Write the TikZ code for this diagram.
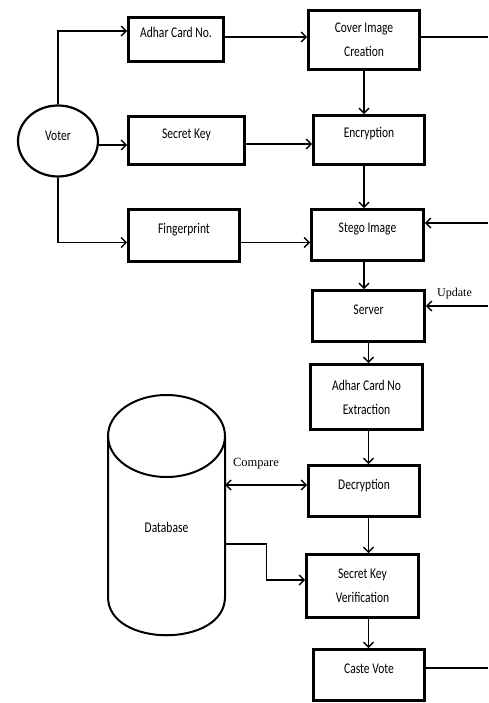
\documentclass[tikz,border=0pt]{standalone}
\usepackage{fontspec}
\setmainfont{Carlito}[FakeStretch=0.78]
\newfontfamily\serifl{Liberation Serif}
\usetikzlibrary{arrows.meta,shapes.geometric}
\begin{document}
\begin{tikzpicture}[x=1pt,y=-1pt,
  box/.style={draw, line width=2.6pt, rectangle, inner sep=0pt, align=center, font=\fontsize{14.8}{24}\selectfont},
  onel/.style={text height=10pt, text depth=14pt},
  conn/.style={line width=1.4pt, -{Straight Barb[length=5pt,width=10pt]}},
  plain/.style={line width=1.4pt},
  lbl/.style={font=\serifl\fontsize{12}{14}\selectfont, inner sep=0pt}]
\useasboundingbox (0,0) rectangle (488,703);
% boxes
\node[box,onel,minimum width=95pt,minimum height=44pt] (adhar) at (176,39.5) {Adhar Card No.};
\node[box,minimum width=111pt,minimum height=59pt] (cover) at (364,40) {Cover Image\\Creation};
\node[box,onel,minimum width=116pt,minimum height=48pt] (skey) at (186.5,140.5) {Secret Key};
\node[box,onel,minimum width=111pt,minimum height=49pt] (enc) at (369,140) {Encryption};
\node[box,onel,minimum width=111pt,minimum height=52pt] (fp) at (184,235.5) {Fingerprint};
\node[box,onel,minimum width=112pt,minimum height=51pt] (stego) at (367.5,235) {Stego Image};
\node[box,onel,minimum width=112pt,minimum height=51pt] (server) at (368.5,316) {Server};
\node[box,minimum width=112pt,minimum height=65pt] (extr) at (366.5,397) {Adhar Card No\\Extraction};
\node[box,onel,minimum width=111pt,minimum height=51pt] (dec) at (364,491) {Decryption};
\node[box,minimum width=112pt,minimum height=63pt] (verif) at (362.5,586) {Secret Key\\Verification};
\node[box,onel,minimum width=111pt,minimum height=51pt] (caste) at (369,675) {Caste Vote};
% voter
\node[draw, ellipse, line width=2.2pt, minimum width=80pt, minimum height=71pt, inner sep=0pt,
  font=\fontsize{14.8}{18}\selectfont, text height=10pt, text depth=10pt] (voter) at (58,141) {Voter};
% database
\node[minimum width=117pt, minimum height=240pt, inner sep=0pt, text height=37pt, text depth=3pt,
  font=\fontsize{14.8}{18}\selectfont] (db) at (166.5,515) {Database};
\draw[line width=2pt] (166.5,436) ellipse[x radius=58.5, y radius=41];
\draw[line width=2pt] (108,436) -- (108,597) .. controls (108,648) and (225,648) .. (225,597) -- (225,436);
% right edge points
\coordinate (r1) at (488,37);
\coordinate (r2) at (488,223);
\coordinate (r3) at (488,306);
\coordinate (r4) at (488,668);
% connectors
\draw[conn] (voter.north) |- ([yshift=8.5pt]adhar.west);
\draw[conn] ([yshift=-4pt]voter.east) -- ([yshift=-4pt]voter.east -| skey.west);
\draw[conn] (voter.south) |- ([yshift=-7pt]fp.west);
\draw[conn] ([yshift=2.5pt]adhar.east) -- ([yshift=2.5pt]adhar.east -| cover.west);
\draw[conn] ([yshift=-3.5pt]skey.east) -- ([yshift=-3.5pt]skey.east -| enc.west);
\draw[conn] ([yshift=-7pt]fp.east) -- ([yshift=-7pt]fp.east -| stego.west);
\draw[plain] (cover.east |- r1) -- (r1);
\draw[conn] (r2) -- (r2 -| stego.east);
\draw[conn] (r3) -- (r3 -| server.east);
\draw[plain] (caste.east |- r4) -- (r4);
\node[lbl, anchor=west] (upd) at (437,294) {Update};
\draw[line width=1.4pt, {Straight Barb[length=5pt,width=10pt]}-{Straight Barb[length=5pt,width=10pt]}]
  ([yshift=30pt]db.east) -- ([yshift=30pt]db.east -| dec.west);
\node[lbl, font=\serifl\fontsize{12.5}{14}\selectfont] (cmp) at (256,464) {Compare};
\draw[conn] ([yshift=-29pt]db.east) -- ++(41,0) |- ([yshift=6pt]verif.west);
% vertical chain
\draw[conn] (cover.south) -- (cover.south |- enc.north);
\draw[conn] (enc.south -| cover.south) -- (stego.north -| cover.south);
\draw[conn] (stego.south -| cover.south) -- (server.north -| cover.south);
\draw[conn] (server.south) -- (server.south |- extr.north);
\draw[conn] (extr.south -| server.south) -- (dec.north -| server.south);
\draw[conn] (dec.south -| server.south) -- (verif.north -| server.south);
\draw[conn] (verif.south -| server.south) -- (caste.north -| server.south);
\end{tikzpicture}
\end{document}
